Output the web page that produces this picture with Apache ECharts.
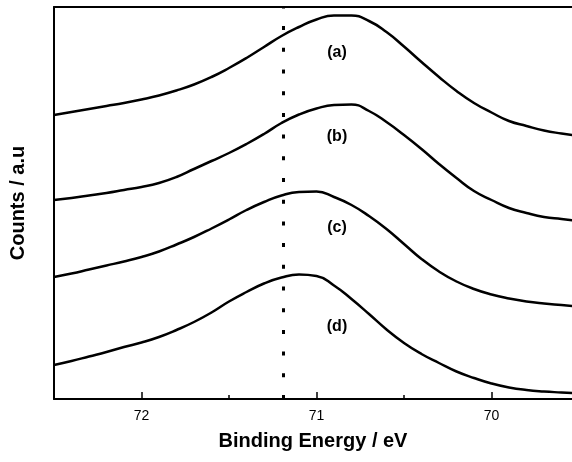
<!DOCTYPE html>
<html>
<head>
<meta charset="utf-8">
<script src="https://cdn.jsdelivr.net/npm/echarts@6/dist/echarts.min.js"></script>
<style>
  html, body { margin: 0; padding: 0; background: #fff; }
  #chart { width: 572px; height: 462px; }
</style>
</head>
<body>
<div id="chart"></div>
<script>
// XPS spectra, Counts vs binding energy (eV), four samples stacked (a)-(d)
const energy = [72.5, 72.4, 72.3, 72.2, 72.1, 72.0, 71.9, 71.8, 71.7, 71.6,
                71.5, 71.4, 71.3, 71.2, 71.1, 71.0, 70.9, 70.8, 70.7, 70.6,
                70.5, 70.4, 70.3, 70.2, 70.1, 70.0, 69.9, 69.8, 69.7, 69.6, 69.5];
const countsA = [284, 287, 290, 293, 296, 299.5, 303.5, 308.5, 314.5, 322,
                 331, 341, 352, 363, 372, 379.5, 383.5, 383.5, 378, 367,
                 352.5, 337, 322, 308, 296, 286.5, 278, 273, 268.5, 265.5, 263];
const countsB = [199, 201, 203.5, 206, 209, 212, 216, 222, 230, 238,
                 246, 255, 265, 276, 284.5, 290.5, 294, 294.5, 288, 277,
                 264, 250, 235, 221, 208, 199, 191, 186, 182, 180, 178];
const countsC = [122, 125.5, 129.5, 133.5, 137.5, 142, 147.5, 154.5, 162, 170.5,
                 179.5, 189, 197, 203.5, 207, 207.5, 202, 194, 183, 170,
                 155, 140, 127.5, 117.5, 110, 104.5, 100.5, 97.5, 95.5, 94, 92.5];
const countsD = [34, 38, 42.5, 47, 52, 56.5, 62, 69, 77, 86.5,
                 97.5, 107, 115.5, 121.5, 124.5, 123, 113.5, 100, 85, 69.5,
                 56, 45, 36, 27.5, 21, 15.5, 11.5, 9, 7.5, 6.5, 5.5];

const sampleNames = ['(a)', '(b)', '(c)', '(d)'];
const majorTicks = [70, 71, 72];
const minorTicks = [70.5, 71.5];
const referenceEnergy = 71.19;   // dotted reference position
const xRange = [69.54, 72.5];
const yRange = [0, 392];

const curves = [countsA, countsB, countsC, countsD].map(ys => energy.map((x, i) => [x, ys[i]]));

const chart = echarts.init(document.getElementById('chart'), null, { renderer: 'canvas' });
const FONT = 'Liberation Sans, Arial, sans-serif';

const labelY = [53, 137, 228, 327];

const series = curves.map((d, i) => ({
  type: 'line',
  name: sampleNames[i],
  data: d,
  smooth: 0.5,
  showSymbol: false,
  clip: true,
  lineStyle: { color: '#000', width: 2.5 },
  z: 3
}));
series[0].markLine = {
  silent: true,
  symbol: 'none',
  label: { show: false },
  lineStyle: { color: '#000', width: 3, type: [4, 17.7], cap: 'butt' },
  data: [{ xAxis: referenceEnergy }]
};

const hiddenAxis = {
  type: 'value', inverse: true, min: xRange[0], max: xRange[1],
  axisLabel: { show: false },
  splitLine: { show: false }
};

chart.setOption({
  backgroundColor: '#fff',
  animation: false,
  grid: { left: 54, right: 0, top: 7, bottom: 63, show: false },
  xAxis: [{
    type: 'value', inverse: true, min: xRange[0], max: xRange[1],
    name: 'Binding Energy / eV', nameLocation: 'middle', nameGap: 32,
    nameTextStyle: { fontFamily: FONT, fontWeight: 'bold', fontSize: 20, color: '#000' },
    axisLine: { show: true, lineStyle: { color: '#000', width: 2 } },
    axisTick: { show: true, inside: true, length: 7, lineStyle: { color: '#000', width: 1.5 }, customValues: majorTicks },
    axisLabel: { show: true, fontFamily: FONT, fontSize: 14, color: '#000', margin: 10, customValues: majorTicks },
    splitLine: { show: false }
  }, Object.assign({}, hiddenAxis, {
    position: 'bottom', offset: 0,
    axisLine: { show: false },
    axisTick: { show: true, inside: true, length: 4, lineStyle: { color: '#000', width: 1.5 }, customValues: minorTicks }
  }), Object.assign({}, hiddenAxis, {
    position: 'top',
    axisLine: { show: true, lineStyle: { color: '#000', width: 2 } },
    axisTick: { show: false }
  })],
  yAxis: {
    type: 'value', min: yRange[0], max: yRange[1],
    name: 'Counts / a.u', nameLocation: 'middle', nameGap: 26,
    nameTextStyle: { fontFamily: FONT, fontWeight: 'bold', fontSize: 20, color: '#000' },
    axisLine: { show: true, lineStyle: { color: '#000', width: 2 } },
    axisTick: { show: false },
    axisLabel: { show: false },
    splitLine: { show: false }
  },
  series: series,
  graphic: sampleNames.map((t, i) => ({
    type: 'text', x: 337, y: labelY[i],
    style: { text: t, fontFamily: FONT, fontWeight: 'bold', fontSize: 16, fill: '#000', align: 'center', verticalAlign: 'middle' }
  }))
});
</script>
</body>
</html>
